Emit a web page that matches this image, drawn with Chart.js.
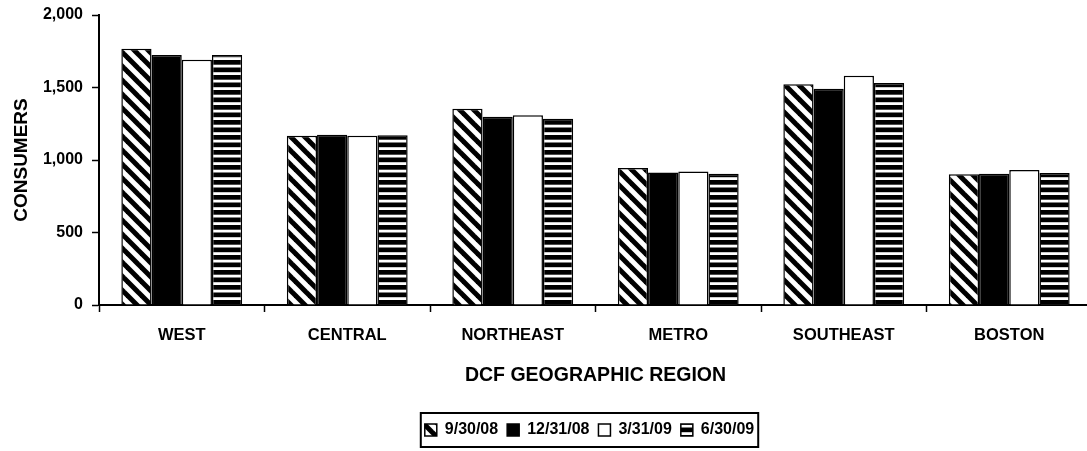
<!DOCTYPE html>
<html>
<head>
<meta charset="utf-8">
<script src="https://cdn.jsdelivr.net/npm/chart.js@4.4.1/dist/chart.umd.min.js"></script>
<style>
    html, body { margin:0; padding:0; background:#fff; overflow:hidden; }
    #stay_canvas { width:1093px; height:451px; }
</style>
</head>
<body>
<div id="stay_canvas"><canvas id="regiones" width="1093" height="451"></canvas></div>
<script>
// datos
var regiones = ["WEST", "CENTRAL", "NORTHEAST", "METRO", "SOUTHEAST", "BOSTON"];
var fechas = ["9/30/08", "12/31/08", "3/31/09", "6/30/09"];
var valores_093008 = [1768, 1168, 1354, 945, 1522, 901];
var valores_123108 = [1724, 1175, 1299, 913, 1492, 906];
var valores_033109 = [1692, 1168, 1308, 920, 1581, 931];
var valores_063009 = [1724, 1170, 1285, 906, 1531, 910];
var ticks_y = [0, 500, 1000, 1500, 2000];

var fuente = "'Liberation Sans', Arial, sans-serif";

function patron_diagonal(){
    var c = document.createElement('canvas');
    var p = 14;
    c.width = p; c.height = p;
    var g = c.getContext('2d');
    g.fillStyle = '#fff';
    g.fillRect(0, 0, p, p);
    g.strokeStyle = '#000';
    g.lineWidth = 5;
    for (var k = -1; k <= 1; k++) {
        g.beginPath();
        g.moveTo(k * p - 2, -2);
        g.lineTo(k * p + p + 2, p + 2);
        g.stroke();
    }
    return g.createPattern(c, 'repeat');
}

function patron_horizontal(){
    var c = document.createElement('canvas');
    c.width = 16; c.height = 15;
    var g = c.getContext('2d');
    g.fillStyle = '#fff';
    g.fillRect(0, 0, 16, 15);
    g.fillStyle = '#000';
    g.fillRect(0, 0, 16, 4.7);
    g.fillRect(0, 7.5, 16, 4.7);
    return g.createPattern(c, 'repeat');
}

// marco alrededor de la leyenda
var marcoLeyenda = {
    id: 'marcoLeyenda',
    afterLayout: function(chart){
        // la leyenda del original esta un poco a la izquierda
        chart.legend.left -= 6;
        chart.legend.right -= 6;
    },
    afterDraw: function(chart){
        var cajas = chart.legend.legendHitBoxes;
        if (!cajas || !cajas.length) return;
        var izq = cajas[0].left, der = 0, arr = cajas[0].top, alto = cajas[0].height;
        for (var i = 0; i < cajas.length; i++) {
            izq = Math.min(izq, cajas[i].left);
            der = Math.max(der, cajas[i].left + cajas[i].width);
        }
        var ctx = chart.ctx;
        ctx.save();
        ctx.strokeStyle = '#000';
        ctx.lineWidth = 2;
        ctx.strokeRect(izq - 4, arr - 9, der - izq + 8, alto + 18);
        ctx.restore();
    }
};

var fulldata = [
    { label: fechas[0], data: valores_093008, backgroundColor: patron_diagonal() },
    { label: fechas[1], data: valores_123108, backgroundColor: '#000' },
    { label: fechas[2], data: valores_033109, backgroundColor: '#fff' },
    { label: fechas[3], data: valores_063009, backgroundColor: patron_horizontal() }
];
for (var i = 0; i < fulldata.length; i++) {
    fulldata[i].borderColor = '#000';
    fulldata[i].borderWidth = 1.5;
}

var ctx = document.getElementById('regiones').getContext('2d');
var chart = new Chart(ctx, {
    type: 'bar',
    data: { labels: regiones, datasets: fulldata },
    plugins: [marcoLeyenda],
    options: {
        responsive: false,
        animation: false,
        layout: { padding: { top: 15, left: 0, right: 1, bottom: 3 } },
        datasets: { bar: { categoryPercentage: 0.73, barPercentage: 1.0 } },
        plugins: {
            tooltip: { enabled: false },
            legend: {
                position: 'bottom',
                fullSize: false,
                labels: {
                    color: '#000',
                    boxWidth: 12,
                    boxHeight: 12,
                    padding: 9,
                    font: { family: fuente, size: 16, weight: 'bold' }
                }
            }
        },
        scales: {
            x: {
                afterFit: function(scale){ scale.height = 108; },
                border: { color: '#000', width: 2 },
                grid: { display: true, drawOnChartArea: false, offset: true, color: '#000', tickLength: 7, tickWidth: 1.5 },
                ticks: { color: '#000', padding: 14, maxRotation: 0, font: { family: fuente, size: 16.5, weight: 'bold' } },
                title: {
                    display: true,
                    text: 'DCF GEOGRAPHIC REGION',
                    color: '#000',
                    padding: { top: 0, bottom: 26 },
                    font: { family: fuente, size: 19.5, weight: 'bold' }
                }
            },
            y: {
                min: 0,
                max: 2000,
                afterFit: function(scale){
                    scale.width = 99;
                    scale.paddingTop = 0;
                    scale.paddingBottom = 0;
                },
                afterBuildTicks: function(scale){
                    scale.ticks = ticks_y.map(function(v){ return { value: v }; });
                },
                border: { color: '#000', width: 2 },
                grid: { display: true, drawOnChartArea: false, color: '#000', tickLength: 7, tickWidth: 1.5 },
                ticks: { color: '#000', padding: 9, font: { family: fuente, size: 16, weight: 'bold' } },
                title: {
                    display: true,
                    text: 'CONSUMERS',
                    color: '#000',
                    padding: { top: 10, bottom: 0 },
                    font: { family: fuente, size: 19, weight: 'bold' }
                }
            }
        }
    }
});
</script>
</body>
</html>
